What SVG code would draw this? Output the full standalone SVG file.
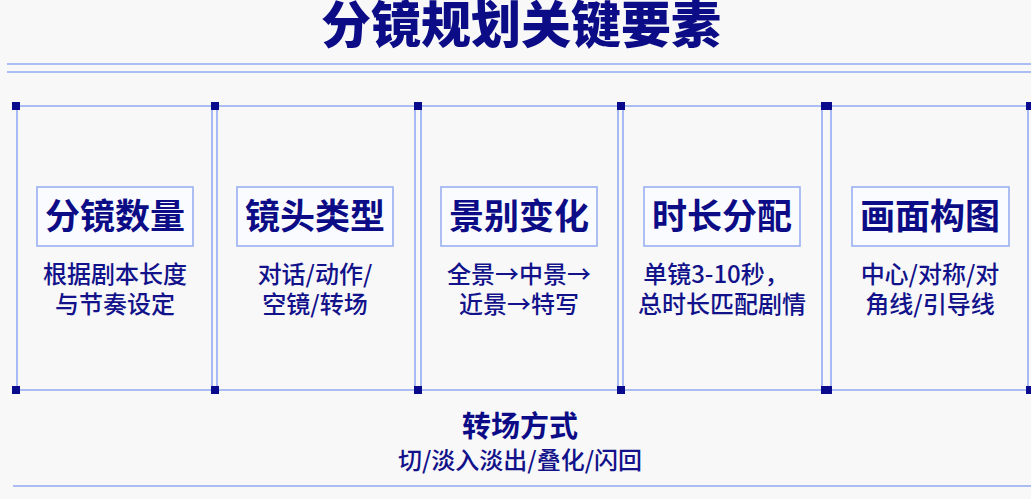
<svg xmlns="http://www.w3.org/2000/svg" width="1031" height="499" viewBox="0 0 1031 499">
<style>
.ln{stroke:#93aaf2;stroke-width:1.6;fill:none}
.sq{fill:#0a0a8c}
.box{fill:#fafbfe;stroke:#9ab0f2;stroke-width:1.6}
.ttl{font-family:"Noto Sans CJK SC","Noto Sans",sans-serif;font-weight:900;fill:#0c0c86;text-anchor:middle}
.lbl{font-family:"Noto Sans CJK SC","Noto Sans",sans-serif;font-weight:700;font-size:35px;fill:#0c0c86;text-anchor:middle}
.dsc{font-family:"Noto Sans CJK SC","Noto Sans",sans-serif;font-weight:500;font-size:24px;fill:#12128a;text-anchor:middle}
</style>
<rect width="1031" height="499" fill="#f8f8f9"/>
<text class="ttl" x="521" y="43" font-size="50">分镜规划关键要素</text>
<g id="connectors">
<line class="ln" x1="7" y1="64" x2="1031" y2="64"/>
<line class="ln" x1="7" y1="72" x2="1031" y2="72"/>
<line class="ln" x1="16" y1="106" x2="1031" y2="106"/>
<line class="ln" x1="16" y1="390" x2="1031" y2="390"/>
<line class="ln" x1="13" y1="486" x2="1031" y2="486"/>
<line class="ln" x1="17" y1="106" x2="17" y2="390"/>
<line class="ln" x1="212" y1="106" x2="212" y2="390"/>
<line class="ln" x1="217" y1="106" x2="217" y2="390"/>
<line class="ln" x1="415" y1="106" x2="415" y2="390"/>
<line class="ln" x1="421" y1="106" x2="421" y2="390"/>
<line class="ln" x1="618" y1="106" x2="618" y2="390"/>
<line class="ln" x1="623" y1="106" x2="623" y2="390"/>
<line class="ln" x1="822" y1="106" x2="822" y2="390"/>
<line class="ln" x1="831" y1="106" x2="831" y2="390"/>
<line class="ln" x1="1028" y1="106" x2="1028" y2="390"/>
<rect class="sq" x="12" y="102" width="8" height="8"/>
<rect class="sq" x="211" y="102" width="8" height="8"/>
<rect class="sq" x="414" y="102" width="8" height="8"/>
<rect class="sq" x="617" y="102" width="8" height="8"/>
<rect class="sq" x="821" y="102" width="11" height="8"/>
<rect class="sq" x="1026" y="102" width="8" height="8"/>
<rect class="sq" x="12" y="386" width="8" height="8"/>
<rect class="sq" x="211" y="386" width="8" height="8"/>
<rect class="sq" x="414" y="386" width="8" height="8"/>
<rect class="sq" x="617" y="386" width="8" height="8"/>
<rect class="sq" x="821" y="386" width="11" height="8"/>
<rect class="sq" x="1026" y="386" width="8" height="8"/>
</g>
<g id="n1">
<rect class="box" x="37" y="187" width="156" height="59"/>
<text class="lbl" x="115" y="229">分镜数量</text>
<text class="dsc" x="115" y="283">根据剧本长度</text>
<text class="dsc" x="115" y="313">与节奏设定</text>
</g>
<g id="n2">
<rect class="box" x="237" y="187" width="156" height="59"/>
<text class="lbl" x="315" y="229">镜头类型</text>
<text class="dsc" x="315" y="283">对话/动作/</text>
<text class="dsc" x="315" y="313">空镜/转场</text>
</g>
<g id="n3">
<rect class="box" x="441" y="187" width="156" height="59"/>
<text class="lbl" x="519" y="229">景别变化</text>
<text class="dsc" x="519" y="283">全景→中景→</text>
<text class="dsc" x="519" y="313">近景→特写</text>
</g>
<g id="n4">
<rect class="box" x="644" y="187" width="156" height="59"/>
<text class="lbl" x="722" y="229">时长分配</text>
<text class="dsc" x="716" y="283">单镜3-10秒，</text>
<text class="dsc" x="722" y="313">总时长匹配剧情</text>
</g>
<g id="n5">
<rect class="box" x="852" y="187" width="157" height="59"/>
<text class="lbl" x="930" y="229">画面构图</text>
<text class="dsc" x="930" y="283">中心/对称/对</text>
<text class="dsc" x="930" y="313">角线/引导线</text>
</g>
<g id="n6">
<text class="lbl" x="520" y="437" style="font-size:29px">转场方式</text>
<text class="dsc" x="520" y="469" style="font-size:24px">切/淡入淡出/叠化/闪回</text>
</g>
</svg>
